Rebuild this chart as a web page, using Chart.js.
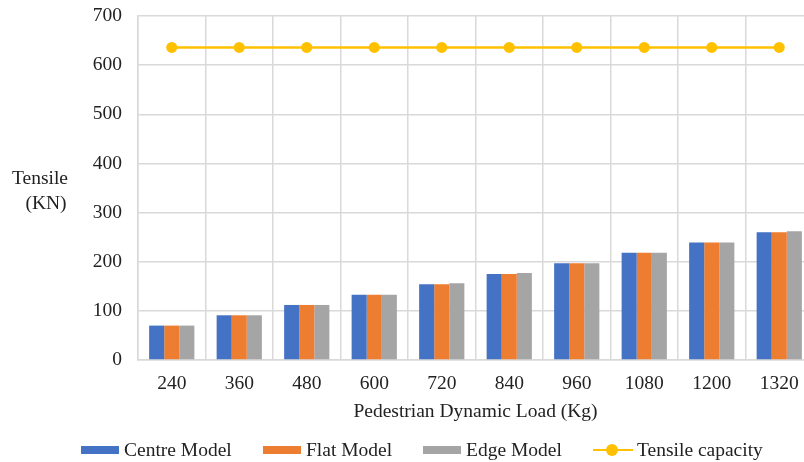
<!DOCTYPE html>
<html>
<head>
<meta charset="utf-8">
<script src="https://cdn.jsdelivr.net/npm/chart.js@4.4.1/dist/chart.umd.min.js"></script>
<style>
  html, body { margin: 0; padding: 0; background: #fff; overflow: hidden; }
  #wrap { position: relative; width: 820px; height: 462px; }
  #legend {
    position: absolute; left: 0; top: 439px; width: 804px; height: 22px;
    font-family: "Liberation Serif", "Times New Roman", serif; font-size: 19.5px; color: #222;
  }
  .item { position: absolute; top: 0; display: flex; align-items: center; height: 22px; white-space: nowrap; }
  .box { display: inline-block; width: 38px; height: 8px; margin-right: 5px; }
  .ln { position: relative; display: inline-block; width: 40px; height: 2.5px; background: #FFC000; margin-right: 4px; }
  .ln::after { content: ""; position: absolute; left: 13px; top: -4.75px; width: 12px; height: 12px; border-radius: 50%; background: #FFC000; }
</style>
</head>
<body>
<div id="wrap">
  <canvas id="c" width="820" height="462"></canvas>
  <div id="legend">
    <div class="item" style="left:81px"><span class="box" style="background:#4472C4"></span>Centre Model</div>
    <div class="item" style="left:263px"><span class="box" style="background:#ED7D31"></span>Flat Model</div>
    <div class="item" style="left:423px"><span class="box" style="background:#A5A5A5"></span>Edge Model</div>
    <div class="item" style="left:593px"><span class="ln"></span>Tensile capacity</div>
  </div>
</div>
<script>
// Pedestrian dynamic load (kg) on the x axis
const loads = ['240', '360', '480', '600', '720', '840', '960', '1080', '1200', '1320'];
// Tensile force (kN) per support model
const centreModel = [70, 91, 112, 133, 154, 175, 197, 218, 239, 260];
const flatModel   = [70, 91, 112, 133, 154, 175, 197, 218, 239, 260];
const edgeModel   = [70, 91, 112, 133, 156, 177, 197, 218, 239, 262];
// Cable tensile capacity (kN)
const tensileCapacity = [636, 636, 636, 636, 636, 636, 636, 636, 636, 636];
const yTicks = [0, 100, 200, 300, 400, 500, 600, 700];

const FONT = '"Liberation Serif", "Times New Roman", serif';
const GRID = '#d9d9d9';
const TEXT = '#222';
const SIZE = 19.5;

// Horizontal two-line y-axis title at the left edge
const yTitle = {
  id: 'yTitle',
  afterDraw(chart) {
    const ctx = chart.ctx;
    ctx.save();
    ctx.fillStyle = TEXT;
    ctx.font = SIZE + 'px ' + FONT;
    ctx.textAlign = 'center';
    ctx.textBaseline = 'middle';
    ctx.fillText('Tensile', 40, 179);
    ctx.fillText('(KN)', 46, 204);
    ctx.restore();
  }
};

new Chart(document.getElementById('c'), {
  data: {
    labels: loads,
    datasets: [
      { type: 'line', label: 'Tensile capacity', data: tensileCapacity,
        borderColor: '#FFC000', backgroundColor: '#FFC000', borderWidth: 2.5,
        pointRadius: 5.5, pointHoverRadius: 5.5, pointBorderWidth: 0, order: 0 },
      { type: 'bar', label: 'Centre Model', data: centreModel, backgroundColor: '#4472C4', order: 1 },
      { type: 'bar', label: 'Flat Model', data: flatModel, backgroundColor: '#ED7D31', order: 1 },
      { type: 'bar', label: 'Edge Model', data: edgeModel, backgroundColor: '#A5A5A5', order: 1 }
    ]
  },
  options: {
    responsive: false,
    animation: false,
    events: [],
    datasets: { bar: { categoryPercentage: 0.67, barPercentage: 1.0 } },
    layout: { padding: { top: 16, right: 7, bottom: 38, left: 0 } },
    plugins: { legend: { display: false }, tooltip: { enabled: false } },
    scales: {
      x: {
        offset: true,
        afterFit(scale) { scale.height = 64; scale.paddingLeft = 0; scale.paddingRight = 0; },
        grid: { color: GRID, lineWidth: 1.5, offset: true, drawTicks: false },
        border: { color: GRID, width: 1.5 },
        ticks: { color: TEXT, font: { family: FONT, size: SIZE }, padding: 12, maxRotation: 0 },
        title: { display: true, text: 'Pedestrian Dynamic Load (Kg)', color: TEXT,
                 font: { family: FONT, size: SIZE }, padding: { top: 4, bottom: 0 } }
      },
      y: {
        min: 0, max: 700,
        afterFit(scale) { scale.width = 138; scale.paddingTop = 0; scale.paddingBottom = 0; },
        afterBuildTicks(scale) { scale.ticks = yTicks.map(v => ({ value: v })); },
        grid: { color: GRID, lineWidth: 1.5, drawTicks: false },
        border: { color: GRID, width: 1.5 },
        ticks: { color: TEXT, font: { family: FONT, size: SIZE }, padding: 16 }
      }
    }
  },
  plugins: [yTitle]
});
</script>
</body>
</html>
